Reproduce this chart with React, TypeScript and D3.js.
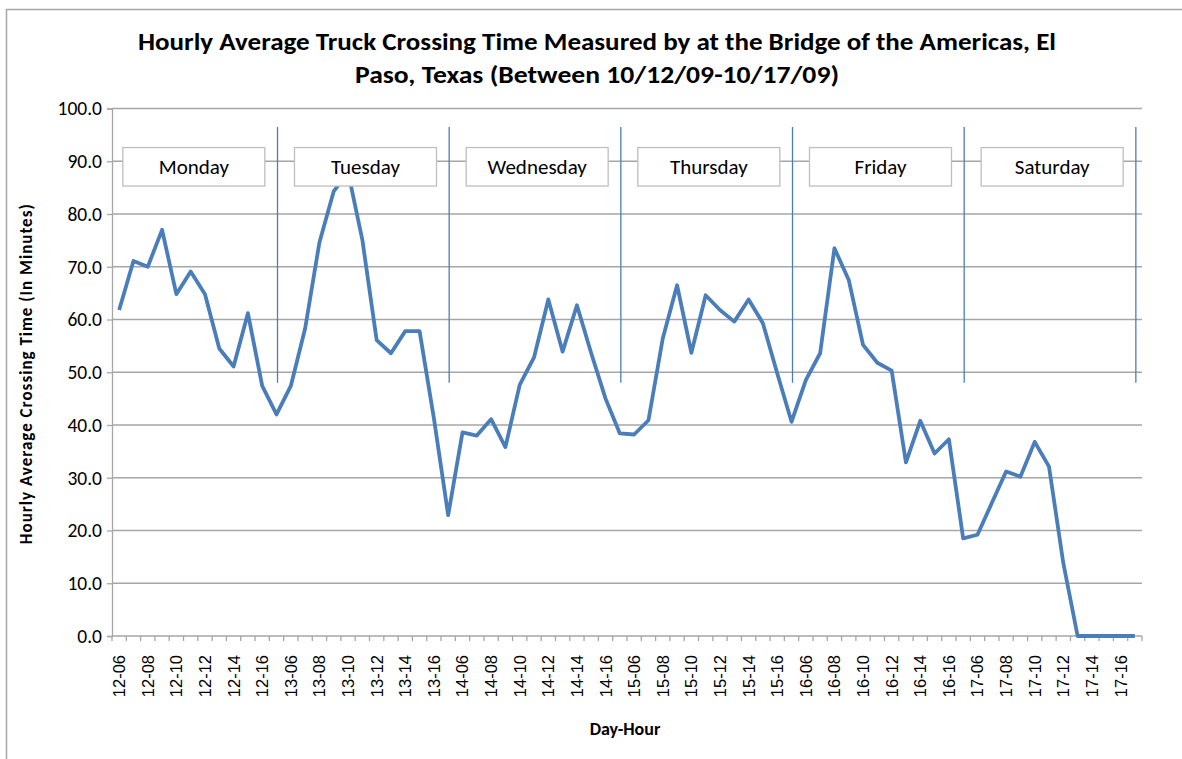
import React, { useRef, useEffect } from 'react';
import * as d3 from 'd3';

// day / hour categories
const days = ['12', '13', '14', '15', '16', '17'];
const hours = ['06', '07', '08', '09', '10', '11', '12', '13', '14', '15', '16', '17'];
const dayNames = ['Monday', 'Tuesday', 'Wednesday', 'Thursday', 'Friday', 'Saturday'];

// hourly average crossing time (minutes)
const monday = [61.8, 71.1, 70.0, 77.0, 64.8, 69.1, 64.8, 54.5, 51.1, 61.2, 47.4, 42.0];
const tuesday = [47.4, 58.3, 74.6, 84.3, 88.0, 75.1, 56.1, 53.6, 57.8, 57.8, 41.3, 22.9];
const wednesday = [38.6, 38.0, 41.1, 35.8, 47.6, 52.8, 63.8, 53.9, 62.7, 53.6, 45.0, 38.4];
const thursday = [38.2, 40.9, 56.4, 66.5, 53.7, 64.6, 61.8, 59.6, 63.8, 59.3, 49.8, 40.6];
const friday = [48.5, 53.6, 73.5, 67.5, 55.2, 51.8, 50.3, 32.9, 40.8, 34.6, 37.3, 18.5];
const saturday = [19.2, 25.2, 31.2, 30.2, 36.8, 32.1, 13.8, 0, 0, 0, 0, 0];

const yTicks = [0, 10, 20, 30, 40, 50, 60, 70, 80, 90, 100];

const Chart = () => {
    const chartRef = useRef(null);

    useEffect(() => {
        d3.select(chartRef.current).selectAll('*').remove();

        const svg = d3.select(chartRef.current)
            .attr('width', 1182)
            .attr('height', 759);

        const categories = days.flatMap(d => hours.map(h => `${d}-${h}`));
        const values = [...monday, ...tuesday, ...wednesday, ...thursday, ...friday, ...saturday];
        const data = categories.map((c, i) => ({ c, v: values[i] }));

        const left = 112, right = 1142, top = 108.5, bottom = 636;
        const calibri = 'Carlito, Lato, sans-serif';
        const gridColor = '#a6a6a6';
        const blue = '#4a7ebb';

        // chart frame
        svg.append('rect')
            .attr('x', 6.5).attr('y', 9.5)
            .attr('width', 1200).attr('height', 800)
            .attr('fill', '#fff')
            .attr('stroke', '#a6a6a6')
            .attr('stroke-width', 1.5);

        const x = d3.scaleBand().domain(categories).range([left, right]).padding(0);
        const y = d3.scaleLinear().domain([0, 100]).range([bottom, top]);
        const cx = c => x(c) + x.bandwidth() / 2;

        // horizontal grid
        svg.append('g')
            .selectAll('line')
            .data(yTicks.slice(1))
            .join('line')
            .attr('x1', left).attr('x2', right)
            .attr('y1', d => y(d)).attr('y2', d => y(d))
            .attr('stroke', gridColor)
            .attr('stroke-width', 1.3);

        // y axis
        const yAxis = svg.append('g')
            .attr('transform', `translate(${left},0)`)
            .call(d3.axisLeft(y).tickValues(yTicks).tickSize(5).tickPadding(5).tickFormat(d3.format('.1f')));
        yAxis.select('.domain').attr('stroke', gridColor).attr('stroke-width', 1.3);
        yAxis.selectAll('.tick line').attr('stroke', gridColor).attr('stroke-width', 1.3);
        yAxis.selectAll('.tick text')
            .attr('font-family', calibri)
            .attr('font-size', 19.5)
            .attr('fill', '#000');

        // x axis: ticks on category boundaries
        const xAxis = svg.append('g');
        xAxis.append('line')
            .attr('x1', left).attr('x2', right)
            .attr('y1', bottom).attr('y2', bottom)
            .attr('stroke', gridColor).attr('stroke-width', 1.3);
        xAxis.selectAll('line.tk')
            .data([...categories.map(c => x(c)), right])
            .join('line')
            .attr('class', 'tk')
            .attr('x1', d => d).attr('x2', d => d)
            .attr('y1', bottom).attr('y2', bottom + 5)
            .attr('stroke', gridColor).attr('stroke-width', 1.3);
        xAxis.selectAll('text')
            .data(categories.filter((c, i) => i % 2 === 0))
            .join('text')
            .attr('transform', d => `translate(${cx(d) + 6},${bottom + 19}) rotate(-90)`)
            .attr('text-anchor', 'end')
            .attr('font-family', 'Liberation Sans, Arial, sans-serif')
            .attr('font-size', 16.5)
            .attr('fill', '#000')
            .text(d => d);

        // day separators
        svg.append('g')
            .selectAll('line')
            .data(days)
            .join('line')
            .attr('x1', d => cx(`${d}-17`) + 1).attr('x2', d => cx(`${d}-17`) + 1)
            .attr('y1', y(96.5)).attr('y2', y(48))
            .attr('stroke', blue)
            .attr('stroke-width', 1.3);

        // data line
        const line = d3.line()
            .x(d => cx(d.c))
            .y(d => y(d.v));

        svg.append('path')
            .datum(data)
            .attr('fill', 'none')
            .attr('stroke', blue)
            .attr('stroke-width', 3.8)
            .attr('stroke-linejoin', 'round')
            .attr('d', line);

        // day label boxes, drawn over the line
        const boxes = svg.append('g')
            .selectAll('g')
            .data(days.map((d, i) => ({ d, name: dayNames[i] })))
            .join('g')
            .attr('transform', b => `translate(${(cx(`${b.d}-06`) + cx(`${b.d}-17`)) / 2 - 4},0)`);
        boxes.append('rect')
            .attr('x', -71).attr('width', 142)
            .attr('y', y(92.6)).attr('height', y(85.3) - y(92.6))
            .attr('fill', '#fff')
            .attr('stroke', '#bfbfbf')
            .attr('stroke-width', 1.3);
        boxes.append('text')
            .attr('text-anchor', 'middle')
            .attr('y', y(89) + 7)
            .attr('font-family', calibri)
            .attr('font-size', 21)
            .attr('fill', '#000')
            .text(b => b.name);

        // titles
        const title = svg.append('g')
            .attr('font-family', calibri)
            .attr('font-weight', 'bold')
            .attr('font-size', 24)
            .attr('text-anchor', 'middle')
            .attr('fill', '#000');
        title.append('text')
            .attr('x', 597).attr('y', 50)
            .attr('textLength', 918).attr('lengthAdjust', 'spacingAndGlyphs')
            .text('Hourly Average Truck Crossing Time Measured by at the Bridge of the Americas, El');
        title.append('text')
            .attr('x', 597).attr('y', 83)
            .attr('textLength', 484).attr('lengthAdjust', 'spacingAndGlyphs')
            .text('Paso, Texas (Between 10/12/09-10/17/09)');

        svg.append('text')
            .attr('transform', `translate(32,${(top + bottom) / 2 + 2}) rotate(-90)`)
            .attr('text-anchor', 'middle')
            .attr('font-family', calibri)
            .attr('font-weight', 'bold')
            .attr('font-size', 17)
            .attr('textLength', 340).attr('lengthAdjust', 'spacing')
            .attr('fill', '#000')
            .text('Hourly Average Crossing Time (In Minutes)');

        svg.append('text')
            .attr('x', 625).attr('y', 735)
            .attr('text-anchor', 'middle')
            .attr('font-family', calibri)
            .attr('font-weight', 'bold')
            .attr('font-size', 18)
            .attr('fill', '#000')
            .text('Day-Hour');
    }, []);

    return <svg ref={chartRef} style={{ position: 'absolute', left: 0, top: 0 }}></svg>;
};

export default function App() {
    return <Chart />;
}
